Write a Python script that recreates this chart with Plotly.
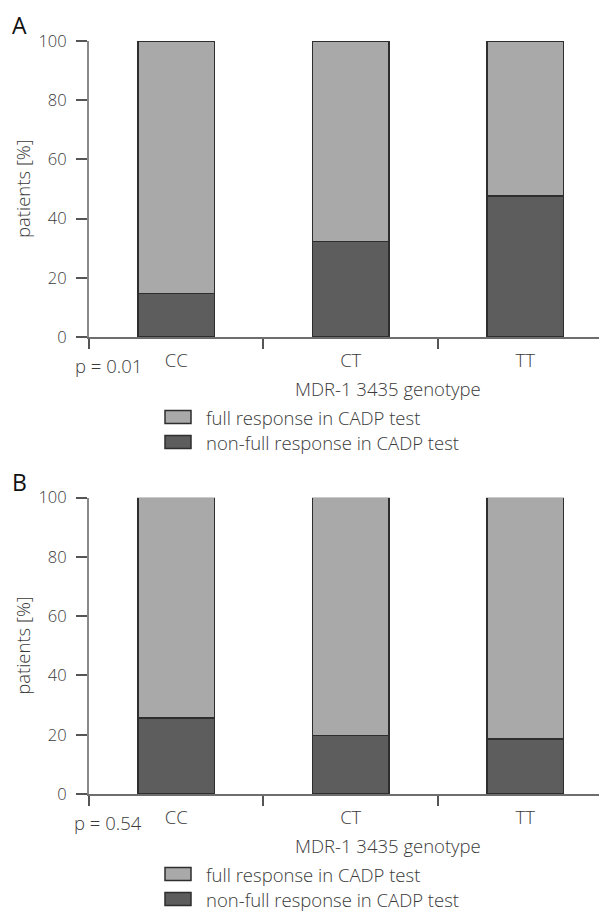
import plotly.graph_objects as go

W, H = 599, 911

genotypes = ["CC", "CT", "TT"]
nonfull_A = [14.7, 32.3, 47.6]
full_A = [100 - v for v in nonfull_A]
nonfull_B = [25.6, 19.8, 18.6]
full_B = [100 - v for v in nonfull_B]
y_ticks = [0, 20, 40, 60, 80, 100]
p_values = ["p = 0.01", "p = 0.54"]
panel_labels = ["A", "B"]
legend_names = ["full response in CADP test", "non-full response in CADP test"]
x_title = "MDR-1 3435 genotype"
y_title = "patients [%]"

LIGHT = "#a9a9a9"
DARK = "#5d5d5d"
EDGE = "#2e2e2e"
TXT = "#3a3a3a"
FONT = "Open Sans"
FS = 18.5
WT = 300


def px(x):
    return x / W


def py(y):
    return 1 - y / H


fig = go.Figure()

panels = [
    ("x", "y", nonfull_A, full_A),
    ("x2", "y2", nonfull_B, full_B),
]
for xa, ya, nf, fu in panels:
    fig.add_trace(go.Bar(x=genotypes, y=nf, xaxis=xa, yaxis=ya, width=0.44,
                         marker=dict(color=DARK, line=dict(color=EDGE, width=1.5)),
                         name=legend_names[1], showlegend=False))
    fig.add_trace(go.Bar(x=genotypes, y=fu, xaxis=xa, yaxis=ya, width=0.44,
                         marker=dict(color=LIGHT, line=dict(color=EDGE, width=1.5)),
                         name=legend_names[0], showlegend=False))

# panel geometry (pixels): axis top (100) and bottom (0)
geo = [(41, 337), (497.7, 794)]
x_left = 89

common_x = dict(type="category", categoryorder="array", categoryarray=genotypes,
                range=[-0.5, 2.423], showline=True, linecolor="#6e6e6e", linewidth=2,
                ticks="outside", tickson="boundaries", ticklen=10, tickwidth=1.5,
                tickcolor="#555", showgrid=False, zeroline=False, automargin=False,
                ticklabelstandoff=6,
                tickfont=dict(family=FONT, size=FS, color=TXT, weight=WT),
                domain=[px(x_left), 1])
common_y = dict(range=[0, 100], tickvals=y_ticks, showline=True, linecolor="#8a8a8a",
                linewidth=2, ticks="outside", ticklen=11, tickwidth=1.5, tickcolor="#555",
                showgrid=False, zeroline=False, ticklabelstandoff=6, automargin=False,
                tickfont=dict(family=FONT, size=16.5, color=TXT, weight=WT))

fig.update_layout(
    xaxis=dict(common_x, anchor="y"),
    yaxis=dict(common_y, anchor="x", domain=[py(geo[0][1]), py(geo[0][0])]),
    xaxis2=dict(common_x, anchor="y2"),
    yaxis2=dict(common_y, anchor="x2", domain=[py(geo[1][1]), py(geo[1][0])]),
)

annotations = []
shapes = []


def ann(x, y, text, size=FS, color=TXT, xanchor="center", angle=0, weight=WT):
    return dict(x=px(x), y=py(y), xref="paper", yref="paper", text=text,
                showarrow=False, xanchor=xanchor, yanchor="middle", textangle=angle,
                borderpad=0,
                font=dict(family=FONT, size=size, color=color, weight=weight))


for i, (top, bot) in enumerate(geo):
    annotations.append(ann(19, top - 16, panel_labels[i], size=23, color="#111", weight=400))
    annotations.append(ann(23, (top + bot) / 2, y_title, angle=-90))
    annotations.append(ann(108, bot + 28, p_values[i]))
    annotations.append(ann(387.5, bot + 51, x_title))
    for j, (name, col) in enumerate(zip(legend_names, [LIGHT, DARK])):
        cy = bot + 80 + 25 * j
        shapes.append(dict(type="rect", xref="paper", yref="paper",
                           x0=px(165), x1=px(191), y0=py(cy - 6.5), y1=py(cy + 6.5),
                           fillcolor=col, line=dict(color=EDGE, width=1.5)))
        annotations.append(ann(205, cy, name, xanchor="left"))

fig.update_layout(
    annotations=annotations,
    shapes=shapes,
    width=W, height=H,
    margin=dict(l=0, r=0, t=0, b=0, autoexpand=False),
    plot_bgcolor="white", paper_bgcolor="white",
    barmode="stack", bargap=0.56,
    showlegend=False,
    font=dict(family=FONT, color=TXT),
)

fig.write_html("out.html", config={"displayModeBar": False},
               post_script="document.body.style.margin='0';document.body.style.padding='0';")
